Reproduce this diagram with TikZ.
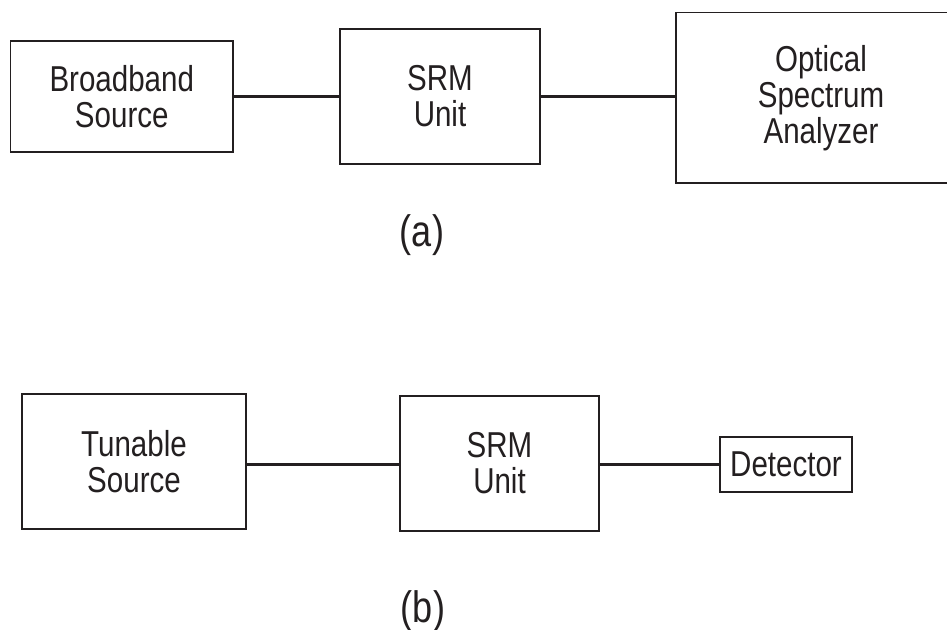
\documentclass[tikz,border=0pt]{standalone}
\usepackage{fontspec}
\setmainfont{Liberation Sans}[FakeStretch=0.82]
\definecolor{ink}{HTML}{231F20}
\begin{document}
\begin{tikzpicture}[x=1pt,y=-1pt,
  block/.style={draw=ink, line width=1.7pt, fill=white, inner sep=0pt,
    align=center, text=ink, font=\fontsize{36}{36}\selectfont},
  link/.style={draw=ink, line width=3pt},
  caption/.style={text=ink, font=\fontsize{44}{46}\selectfont, inner sep=0pt}]
\useasboundingbox (0,0) rectangle (947,629);

% (a) broadband measurement chain
\node[block, minimum width=222.5pt, minimum height=111pt] (bb) at (121.75,96.5) {Broadband\\Source};
\node[block, minimum width=200pt, minimum height=135pt] (srma) at (440,96.5) {SRM\\Unit};
\node[block, minimum width=290pt, minimum height=170.5pt] (osa) at (821,97.75) {Optical\\Spectrum\\Analyzer};
\draw[link] (bb.east) -- (srma.west);
\draw[link] (srma.east) -- (osa.west |- srma.east);
\node[caption] (capa) at (422,235) {(a)};

% (b) tunable-source measurement chain
\node[block, minimum width=224pt, minimum height=135pt] (ts) at (134,461.5) {Tunable\\Source};
\node[block, minimum width=199pt, minimum height=135pt] (srmb) at (499.5,463.5) {SRM\\Unit};
\node[block, minimum width=132pt, minimum height=55pt] (det) at (786,464.5) {Detector};
\draw[link] (ts.east |- det.west) -- (srmb.west |- det.west);
\draw[link] (srmb.east |- det.west) -- (det.west);
\node[caption] (capb) at (423,611) {(b)};
\end{tikzpicture}
\end{document}
